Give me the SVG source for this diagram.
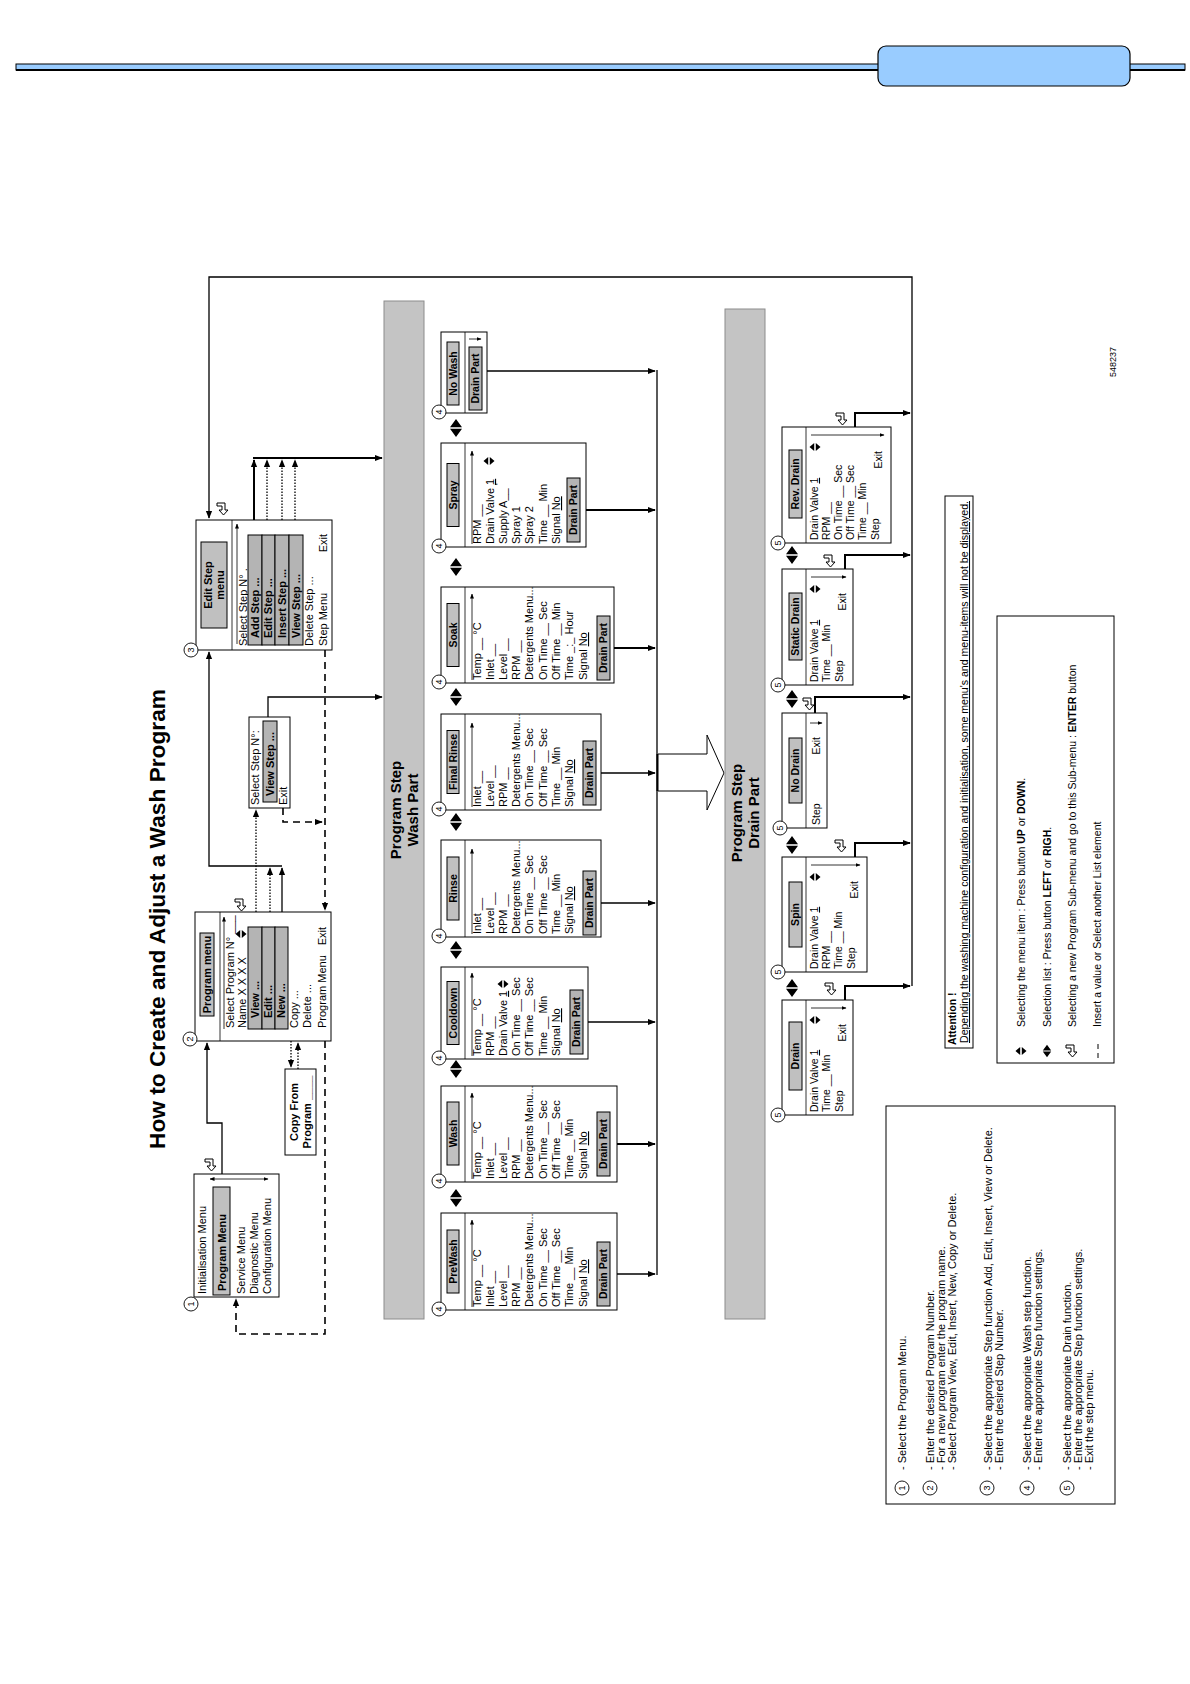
<svg xmlns="http://www.w3.org/2000/svg" width="1190" height="1684" viewBox="0 0 1190 1684">
<style>
.t{font-family:"Liberation Sans Narrow","Arial Narrow","Liberation Sans",Arial,sans-serif;font-size:11px;fill:#000}
.tb{font-family:"Liberation Sans Narrow","Arial Narrow","Liberation Sans",Arial,sans-serif;font-size:11px;font-weight:bold;fill:#000}
.s10{font-size:10.5px}
.box{fill:#fff;stroke:#000;stroke-width:1}
.hdr{fill:#c0c0c0;stroke:#000;stroke-width:1}
.sel{fill:#b4b4b4;stroke:#000;stroke-width:1}
.bar{fill:#c4c4c4;stroke:#8c8c8c;stroke-width:1}
.c{fill:none;stroke:#000;stroke-width:1.3}
.thk{stroke-width:2}
.dot{stroke-dasharray:1.5 1.5}
.dash{stroke-dasharray:7 5;stroke-width:1.6}
.thin{fill:none;stroke:#000;stroke-width:0.8}
.circ{fill:#fff;stroke:#000;stroke-width:0.9}
.ct{font-family:"Liberation Sans",Arial,sans-serif;font-size:9px;text-anchor:middle}
</style>
<defs>
<marker id="a" viewBox="0 0 10 10" refX="9" refY="5" markerWidth="8" markerHeight="8" markerUnits="userSpaceOnUse" orient="auto"><path d="M0,1 L10,5 L0,9 z" fill="#000"/></marker>
<marker id="s" viewBox="0 0 10 10" refX="9" refY="5" markerWidth="5" markerHeight="5" markerUnits="userSpaceOnUse" orient="auto-start-reverse"><path d="M0,1 L10,5 L0,9 z" fill="#000"/></marker>
<g id="ud"><path d="M0,-5.5 L-4,-0.8 L4,-0.8 Z M0,5.5 L-4,0.8 L4,0.8 Z" fill="#000"/></g>
<g id="lr"><path d="M-9,0 L-0.8,-6 L-0.8,6 Z M9,0 L0.8,-6 L0.8,6 Z" fill="#000"/></g>
<g id="ent"><path d="M3,-6 H6 V2 H-1 V5 L-6,0.5 L-1,-4 V-1 H3 Z" fill="#fff" stroke="#000" stroke-width="1"/></g>
</defs>

<g id="header">
<rect x="16" y="64" width="1169" height="6" fill="#99ccff" stroke="#000" stroke-width="1"/>
<line x1="16" y1="70" x2="1185" y2="70" stroke="#000" stroke-width="2"/>
<rect x="878" y="46" width="252" height="40" rx="8" fill="#99ccff" stroke="#000" stroke-width="1.2"/>
</g>

<g id="diagram" transform="matrix(0 -1 1 0 0 1684)">
<text id="title" x="535" y="165" font-family="Liberation Sans,Arial,sans-serif" font-size="22" font-weight="bold" textLength="460" lengthAdjust="spacingAndGlyphs">How to Create and Adjust a Wash Program</text>

<g id="connectors">
<polyline class="c" points="510,222 561,222 561,207 641,207" marker-end="url(#a)"/>
<line class="c dot" x1="772" y1="256" x2="874" y2="256" marker-end="url(#a)"/>
<line class="c dot" x1="772" y1="270" x2="816" y2="270" marker-end="url(#a)"/>
<line class="c" x1="772" y1="282" x2="816" y2="282" marker-end="url(#a)"/>
<polyline class="c" points="818,282 818,209 1032,209" marker-end="url(#a)"/>
<line class="c dot" x1="643" y1="291" x2="617" y2="291" marker-end="url(#a)"/>
<line class="c dot" x1="615" y1="298" x2="641" y2="298" marker-end="url(#a)"/>
<polyline class="c" points="967,268 987,268 987,382" marker-end="url(#a)"/>
<polyline class="c dash" points="876,283 862,283 862,322" marker-end="url(#a)"/>
<line class="c thk" x1="1164" y1="254" x2="1224" y2="254" marker-end="url(#a)"/>
<line class="c dot" x1="1164" y1="267" x2="1224" y2="267" marker-end="url(#a)"/>
<line class="c dot" x1="1164" y1="282" x2="1224" y2="282" marker-end="url(#a)"/>
<line class="c dot" x1="1164" y1="295" x2="1224" y2="295" marker-end="url(#a)"/>
<line class="c thk" x1="1226" y1="253" x2="1226" y2="382" marker-end="url(#a)"/>
<line class="c dash" x1="1034" y1="325" x2="774" y2="325" marker-end="url(#a)"/>
<polyline class="c dash" points="643,325 350,325 350,236 385,236" marker-end="url(#a)"/>
<polyline class="c" points="698,912 1407,912 1407,209 1166,209" marker-end="url(#a)"/>
<line class="c" x1="409" y1="657" x2="1314" y2="657"/>
<line class="c" x1="410" y1="610" x2="410" y2="655" marker-end="url(#a)"/>
<line class="c thk" x1="540" y1="610" x2="540" y2="655" marker-end="url(#a)"/>
<line class="c" x1="662" y1="583" x2="662" y2="655" marker-end="url(#a)"/>
<line class="c" x1="781" y1="596" x2="781" y2="655" marker-end="url(#a)"/>
<line class="c" x1="911" y1="596" x2="911" y2="655" marker-end="url(#a)"/>
<line class="c thk" x1="1036" y1="610" x2="1036" y2="655" marker-end="url(#a)"/>
<line class="c thk" x1="1174" y1="580" x2="1174" y2="655" marker-end="url(#a)"/>
<line class="c" x1="1313" y1="487" x2="1313" y2="655" marker-end="url(#a)"/>
<line x1="893" y1="658" x2="930" y2="658" stroke="#000" stroke-width="3"/>
<polygon points="893,658 893,707 874,707 911,724 949,707 930,707 930,658" fill="#fff" stroke="#000" stroke-width="1"/>
<polyline class="c thk" points="684,845 698,845 698,910" marker-end="url(#a)"/>
<polyline class="c thk" points="827,855 841,855 841,910" marker-end="url(#a)"/>
<polyline class="c thk" points="971,815 987,815 987,910" marker-end="url(#a)"/>
<polyline class="c thk" points="1115,845 1129,845 1129,910" marker-end="url(#a)"/>
<polyline class="c thk" points="1257,855 1271,855 1271,910" marker-end="url(#a)"/>
<use href="#ent" x="519" y="211"/>
<use href="#ent" x="779" y="241"/>
<use href="#ent" x="1175" y="223"/>
<use href="#ent" x="695" y="831"/>
<use href="#ent" x="838" y="841"/>
<use href="#ent" x="980" y="809"/>
<use href="#ent" x="1123" y="830"/>
<use href="#ent" x="1265" y="842"/>
<use href="#lr" x="486" y="456"/>
<use href="#lr" x="615" y="456"/>
<use href="#lr" x="734" y="456"/>
<use href="#lr" x="862" y="456"/>
<use href="#lr" x="987" y="456"/>
<use href="#lr" x="1117" y="456"/>
<use href="#lr" x="1256" y="456"/>
<use href="#lr" x="696" y="792"/>
<use href="#lr" x="839" y="792"/>
<use href="#lr" x="985" y="792"/>
<use href="#lr" x="1129" y="792"/>
</g>

<g id="n-init">
<rect class="box" x="387" y="194" width="123" height="85"/>
<line class="thin" x1="505" y1="210" x2="505" y2="268" marker-start="url(#s)" marker-end="url(#s)"/>
<text class="t" x="390" y="206">Initialisation Menu</text>
<rect class="hdr" x="389" y="213" width="108" height="17"/>
<text class="tb" x="393" y="226">Program Menu</text>
<text class="t" x="390" y="245">Service Menu</text>
<text class="t" x="390" y="258">Diagnostic Menu</text>
<text class="t" x="390" y="271">Configuration Menu</text>
<circle class="circ" cx="380" cy="191" r="7"/><text class="ct" x="380" y="194">1</text>
</g>

<g id="n-program">
<rect class="box" x="643" y="195" width="129" height="136"/>
<line class="thin" x1="643" y1="220" x2="772" y2="220"/>
<rect class="hdr" x="668" y="200" width="83" height="14"/>
<text class="tb" x="709.5" y="211" text-anchor="middle">Program menu</text>
<line class="thin" x1="655" y1="224" x2="767" y2="224" marker-end="url(#s)"/>
<text class="t" x="656" y="234">Select Program N° ___</text>
<use href="#ud" x="750" y="241"/>
<text class="t" x="656" y="246">Name X X X X</text>
<rect class="sel" x="655" y="248" width="102" height="14"/>
<rect class="sel" x="655" y="262" width="102" height="13"/>
<rect class="sel" x="655" y="275" width="102" height="13"/>
<text class="tb" x="666" y="259">View ...</text>
<text class="tb" x="666" y="272">Edit ...</text>
<text class="tb" x="666" y="285">New ...</text>
<text class="t" x="656" y="298">Copy ...</text>
<text class="t" x="656" y="311">Delete ...</text>
<text class="t" x="656" y="326">Program Menu</text>
<text class="t" x="757" y="326" text-anchor="end">Exit</text>
<circle class="circ" cx="645" cy="190" r="7"/><text class="ct" x="645" y="193">2</text>
</g>

<g id="n-copy">
<rect class="box" x="529" y="285" width="86" height="31"/>
<text class="tb" x="572" y="298" text-anchor="middle">Copy From</text>
<text class="tb" x="572" y="311" text-anchor="middle">Program ____</text>
</g>

<g id="n-selstep">
<rect class="box" x="876" y="249" width="91" height="41"/>
<text class="t" x="879" y="259">Select Step N°:</text>
<rect class="sel" x="882" y="263" width="81" height="14"/>
<text class="tb" x="888" y="274">View Step ...</text>
<text class="t" x="879" y="287">Exit</text>
</g>

<g id="n-editstep">
<rect class="box" x="1034" y="196" width="130" height="136"/>
<line class="thin" x1="1034" y1="232" x2="1164" y2="232"/>
<rect class="hdr" x="1056" y="201" width="86" height="26"/>
<text class="tb" x="1099" y="212" text-anchor="middle">Edit Step</text>
<text class="tb" x="1099" y="224" text-anchor="middle">menu</text>
<line class="thin" x1="1040" y1="237" x2="1160" y2="237" marker-end="url(#s)"/>
<text class="t" x="1038" y="247">Select Step N° .</text>
<rect class="sel" x="1039" y="248" width="110" height="14"/>
<rect class="sel" x="1039" y="262" width="110" height="13"/>
<rect class="sel" x="1039" y="275" width="110" height="14"/>
<rect class="sel" x="1039" y="289" width="110" height="14"/>
<text class="tb" x="1046" y="259">Add Step ...</text>
<text class="tb" x="1046" y="272">Edit Step ...</text>
<text class="tb" x="1046" y="286">Insert Step ...</text>
<text class="tb" x="1046" y="300">View Step ...</text>
<text class="t" x="1038" y="313">Delete Step ...</text>
<text class="t" x="1038" y="327">Step Menu</text>
<text class="t" x="1150" y="327" text-anchor="end">Exit</text>
<circle class="circ" cx="1034" cy="191" r="7"/><text class="ct" x="1034" y="194">3</text>
</g>

<g id="bar-wash">
<rect class="bar" x="365" y="384" width="1018" height="40"/>
<text x="874" y="401" font-family="Liberation Sans,Arial,sans-serif" font-size="15" font-weight="bold" text-anchor="middle">Program Step</text>
<text x="874" y="418" font-family="Liberation Sans,Arial,sans-serif" font-size="15" font-weight="bold" text-anchor="middle">Wash Part</text>
</g>

<g id="n-prewash">
<rect class="box" x="374" y="441" width="97" height="176"/>
<line class="thin" x1="374" y1="465" x2="471" y2="465"/>
<rect class="hdr" x="391" y="447" width="63" height="12"/>
<text class="tb s10" x="422.5" y="457" text-anchor="middle">PreWash</text>
<line class="thin" x1="377" y1="472" x2="464" y2="472" marker-end="url(#s)"/>
<text class="t" x="377" y="481">Temp __ °C</text>
<text class="t" x="377" y="494">Inlet __</text>
<text class="t" x="377" y="507">Level __</text>
<text class="t" x="377" y="520">RPM __</text>
<text class="t" x="377" y="533">Detergents Menu...</text>
<text class="t" x="377" y="547">On Time __ Sec</text>
<text class="t" x="377" y="560">Off Time __ Sec</text>
<text class="t" x="377" y="573">Time __ Min</text>
<text class="t" x="377" y="587">Signal <tspan text-decoration="underline">No</tspan></text>
<rect class="sel" x="378" y="597" width="64" height="13"/>
<text class="tb s10" x="410" y="607" text-anchor="middle">Drain Part</text>
<circle class="circ" cx="375" cy="439" r="7"/><text class="ct" x="375" y="442">4</text>
</g>

<g id="n-wash">
<rect class="box" x="502" y="441" width="96" height="176"/>
<line class="thin" x1="502" y1="465" x2="598" y2="465"/>
<rect class="hdr" x="519" y="447" width="63" height="12"/>
<text class="tb s10" x="550.5" y="457" text-anchor="middle">Wash</text>
<line class="thin" x1="505" y1="472" x2="591" y2="472" marker-end="url(#s)"/>
<text class="t" x="505" y="481">Temp __ °C</text>
<text class="t" x="505" y="494">Inlet __</text>
<text class="t" x="505" y="507">Level __</text>
<text class="t" x="505" y="520">RPM __</text>
<text class="t" x="505" y="533">Detergents Menu...</text>
<text class="t" x="505" y="547">On Time __ Sec</text>
<text class="t" x="505" y="560">Off Time __ Sec</text>
<text class="t" x="505" y="573">Time __ Min</text>
<text class="t" x="505" y="587">Signal <tspan text-decoration="underline">No</tspan></text>
<rect class="sel" x="508" y="597" width="64" height="13"/>
<text class="tb s10" x="540" y="607" text-anchor="middle">Drain Part</text>
<circle class="circ" cx="503" cy="439" r="7"/><text class="ct" x="503" y="442">4</text>
</g>

<g id="n-cooldown">
<rect class="box" x="625" y="441" width="92" height="147"/>
<line class="thin" x1="625" y1="465" x2="717" y2="465"/>
<rect class="hdr" x="639.5" y="447" width="63" height="12"/>
<text class="tb s10" x="671" y="457" text-anchor="middle">Cooldown</text>
<line class="thin" x1="628" y1="472" x2="711" y2="472" marker-end="url(#s)"/>
<text class="t" x="628" y="481">Temp __ °C</text>
<text class="t" x="628" y="494">RPM __</text>
<text class="t" x="628" y="507">Drain Valve <tspan text-decoration="underline">1</tspan></text>
<use href="#ud" x="700" y="503"/>
<text class="t" x="628" y="520">On Time __ Sec</text>
<text class="t" x="628" y="533">Off Time __ Sec</text>
<text class="t" x="628" y="547">Time __ Min</text>
<text class="t" x="628" y="560">Signal <tspan text-decoration="underline">No</tspan></text>
<rect class="sel" x="630" y="570" width="64" height="13"/>
<text class="tb s10" x="662" y="580" text-anchor="middle">Drain Part</text>
<circle class="circ" cx="626" cy="439" r="7"/><text class="ct" x="626" y="442">4</text>
</g>

<g id="n-rinse">
<rect class="box" x="747" y="441" width="97" height="160"/>
<line class="thin" x1="747" y1="465" x2="844" y2="465"/>
<rect class="hdr" x="764" y="447" width="63" height="12"/>
<text class="tb s10" x="795.5" y="457" text-anchor="middle">Rinse</text>
<line class="thin" x1="750" y1="472" x2="835" y2="472" marker-end="url(#s)"/>
<text class="t" x="750" y="481">Inlet __</text>
<text class="t" x="750" y="494">Level __</text>
<text class="t" x="750" y="507">RPM __</text>
<text class="t" x="750" y="520">Detergents Menu...</text>
<text class="t" x="750" y="533">On Time __ Sec</text>
<text class="t" x="750" y="547">Off Time __ Sec</text>
<text class="t" x="750" y="560">Time __ Min</text>
<text class="t" x="750" y="573">Signal <tspan text-decoration="underline">No</tspan></text>
<rect class="sel" x="749" y="583" width="64" height="13"/>
<text class="tb s10" x="781" y="593" text-anchor="middle">Drain Part</text>
<circle class="circ" cx="748" cy="439" r="7"/><text class="ct" x="748" y="442">4</text>
</g>

<g id="n-finalrinse">
<rect class="box" x="874" y="441" width="96" height="160"/>
<line class="thin" x1="874" y1="465" x2="970" y2="465"/>
<rect class="hdr" x="890.5" y="447" width="63" height="12"/>
<text class="tb s10" x="922" y="457" text-anchor="middle">Final Rinse</text>
<line class="thin" x1="877" y1="472" x2="961" y2="472" marker-end="url(#s)"/>
<text class="t" x="877" y="481">Inlet __</text>
<text class="t" x="877" y="494">Level __</text>
<text class="t" x="877" y="507">RPM __</text>
<text class="t" x="877" y="520">Detergents Menu...</text>
<text class="t" x="877" y="533">On Time __ Sec</text>
<text class="t" x="877" y="547">Off Time __ Sec</text>
<text class="t" x="877" y="560">Time __ Min</text>
<text class="t" x="877" y="573">Signal <tspan text-decoration="underline">No</tspan></text>
<rect class="sel" x="879" y="583" width="64" height="13"/>
<text class="tb s10" x="911" y="593" text-anchor="middle">Drain Part</text>
<circle class="circ" cx="875" cy="439" r="7"/><text class="ct" x="875" y="442">4</text>
</g>

<g id="n-soak">
<rect class="box" x="1001" y="441" width="96" height="173"/>
<line class="thin" x1="1001" y1="465" x2="1097" y2="465"/>
<rect class="hdr" x="1017.5" y="447" width="63" height="12"/>
<text class="tb s10" x="1049" y="457" text-anchor="middle">Soak</text>
<line class="thin" x1="1004" y1="472" x2="1090" y2="472" marker-end="url(#s)"/>
<text class="t" x="1004" y="481">Temp __ °C</text>
<text class="t" x="1004" y="494">Inlet __</text>
<text class="t" x="1004" y="507">Level __</text>
<text class="t" x="1004" y="520">RPM __</text>
<text class="t" x="1004" y="533">Detergents Menu...</text>
<text class="t" x="1004" y="547">On Time __ Sec</text>
<text class="t" x="1004" y="560">Off Time __ Min</text>
<text class="t" x="1004" y="573">Time _:_ Hour</text>
<text class="t" x="1004" y="587">Signal <tspan text-decoration="underline">No</tspan></text>
<rect class="sel" x="1004" y="597" width="64" height="13"/>
<text class="tb s10" x="1036" y="607" text-anchor="middle">Drain Part</text>
<circle class="circ" cx="1002" cy="439" r="7"/><text class="ct" x="1002" y="442">4</text>
</g>

<g id="n-spray">
<rect class="box" x="1137" y="441" width="104" height="145"/>
<line class="thin" x1="1137" y1="465" x2="1241" y2="465"/>
<rect class="hdr" x="1157.5" y="447" width="63" height="12"/>
<text class="tb s10" x="1189" y="457" text-anchor="middle">Spray</text>
<line class="thin" x1="1140" y1="472" x2="1233" y2="472" marker-end="url(#s)"/>
<text class="t" x="1140" y="481">RPM __</text>
<text class="t" x="1140" y="494">Drain Valve <tspan text-decoration="underline">1</tspan></text>
<use href="#ud" x="1223" y="489"/>
<text class="t" x="1140" y="507">Supply A__ <tspan dy="-4">'</tspan></text>
<text class="t" x="1140" y="520">Spray 1</text>
<text class="t" x="1140" y="533">Spray 2</text>
<text class="t" x="1140" y="547">Time __ Min</text>
<text class="t" x="1140" y="560">Signal <tspan text-decoration="underline">No</tspan></text>
<rect class="sel" x="1142" y="567" width="64" height="13"/>
<text class="tb s10" x="1174" y="577" text-anchor="middle">Drain Part</text>
<circle class="circ" cx="1138" cy="439" r="7"/><text class="ct" x="1138" y="442">4</text>
</g>

<g id="n-nowash">
<rect class="box" x="1271" y="441" width="81" height="46"/>
<line class="thin" x1="1271" y1="465" x2="1352" y2="465"/>
<rect class="hdr" x="1279" y="447" width="63" height="12"/>
<text class="tb s10" x="1310.5" y="457" text-anchor="middle">No Wash</text>
<rect class="sel" x="1274" y="469" width="63" height="13"/>
<text class="tb s10" x="1305.5" y="479" text-anchor="middle">Drain Part</text>
<line class="thin" x1="1345" y1="469" x2="1345" y2="481" marker-end="url(#s)"/>
<circle class="circ" cx="1272" cy="439" r="7"/><text class="ct" x="1272" y="442">4</text>
</g>

<g id="bar-drain">
<rect class="bar" x="365" y="725" width="1010" height="40"/>
<text x="871" y="742" font-family="Liberation Sans,Arial,sans-serif" font-size="15" font-weight="bold" text-anchor="middle">Program Step</text>
<text x="871" y="759" font-family="Liberation Sans,Arial,sans-serif" font-size="15" font-weight="bold" text-anchor="middle">Drain Part</text>
</g>

<g id="n-drain">
<rect class="box" x="569" y="782" width="115" height="71"/>
<line class="thin" x1="569" y1="806" x2="684" y2="806"/>
<rect class="hdr" x="594" y="789" width="68" height="13"/>
<text class="tb s10" x="628" y="799" text-anchor="middle">Drain</text>
<text class="t s10" x="572" y="818">Drain Valve <tspan text-decoration="underline">1</tspan></text>
<text class="t s10" x="572" y="830">Time __ Min</text>
<text class="t s10" x="572" y="843">Step</text>
<text class="t s10" x="660" y="846" text-anchor="end">Exit</text>
<use href="#ud" x="664" y="815"/>
<line class="thin" x1="676" y1="811" x2="676" y2="846" marker-end="url(#s)"/>
<circle class="circ" cx="569" cy="778" r="7"/><text class="ct" x="569" y="781">5</text>
</g>

<g id="n-spin">
<rect class="box" x="712" y="782" width="115" height="85"/>
<line class="thin" x1="712" y1="806" x2="827" y2="806"/>
<rect class="hdr" x="737" y="789" width="65" height="13"/>
<text class="tb s10" x="769.5" y="799" text-anchor="middle">Spin</text>
<text class="t s10" x="715" y="818">Drain Valve <tspan text-decoration="underline">1</tspan></text>
<text class="t s10" x="715" y="830">RPM __</text>
<text class="t s10" x="715" y="842">Time __ Min</text>
<text class="t s10" x="715" y="855">Step</text>
<text class="t s10" x="803" y="858" text-anchor="end">Exit</text>
<use href="#ud" x="807" y="815"/>
<line class="thin" x1="819" y1="811" x2="819" y2="860" marker-end="url(#s)"/>
<circle class="circ" cx="712" cy="778" r="7"/><text class="ct" x="712" y="781">5</text>
</g>

<g id="n-nodrain">
<rect class="box" x="856" y="782" width="115" height="45"/>
<line class="thin" x1="856" y1="806" x2="971" y2="806"/>
<rect class="hdr" x="881" y="789" width="65" height="13"/>
<text class="tb s10" x="913.5" y="799" text-anchor="middle">No Drain</text>
<text class="t s10" x="859" y="820">Step</text>
<text class="t s10" x="947" y="820" text-anchor="end">Exit</text>
<line class="thin" x1="961" y1="810" x2="961" y2="822" marker-end="url(#s)"/>
<circle class="circ" cx="856" cy="780" r="7"/><text class="ct" x="856" y="783">5</text>
</g>

<g id="n-staticdrain">
<rect class="box" x="999" y="782" width="116" height="71"/>
<line class="thin" x1="999" y1="806" x2="1115" y2="806"/>
<rect class="hdr" x="1024" y="789" width="67" height="13"/>
<text class="tb s10" x="1057.5" y="799" text-anchor="middle">Static Drain</text>
<text class="t s10" x="1002" y="818">Drain Valve <tspan text-decoration="underline">1</tspan></text>
<text class="t s10" x="1002" y="830">Time __ Min</text>
<text class="t s10" x="1002" y="843">Step</text>
<text class="t s10" x="1091" y="846" text-anchor="end">Exit</text>
<use href="#ud" x="1095" y="815"/>
<line class="thin" x1="1107" y1="811" x2="1107" y2="846" marker-end="url(#s)"/>
<circle class="circ" cx="999" cy="778" r="7"/><text class="ct" x="999" y="781">5</text>
</g>

<g id="n-revdrain">
<rect class="box" x="1141" y="782" width="116" height="109"/>
<line class="thin" x1="1141" y1="806" x2="1257" y2="806"/>
<rect class="hdr" x="1166" y="789" width="68" height="13"/>
<text class="tb s10" x="1200" y="799" text-anchor="middle">Rev. Drain</text>
<text class="t s10" x="1144" y="818">Drain Valve <tspan text-decoration="underline">1</tspan></text>
<text class="t s10" x="1144" y="830">RPM __</text>
<text class="t s10" x="1144" y="842">On Time __ Sec</text>
<text class="t s10" x="1144" y="854">Off Time __ Sec</text>
<text class="t s10" x="1144" y="866">Time __ Min</text>
<text class="t s10" x="1144" y="879">Step</text>
<text class="t s10" x="1233" y="882" text-anchor="end">Exit</text>
<use href="#ud" x="1237" y="815"/>
<line class="thin" x1="1249" y1="811" x2="1249" y2="884" marker-end="url(#s)"/>
<circle class="circ" cx="1141" cy="778" r="7"/><text class="ct" x="1141" y="781">5</text>
</g>

<g id="attention">
<rect class="box" x="636" y="945" width="552" height="28"/>
<text class="tb s10" x="639" y="956">Attention !</text>
<text class="t s10" x="641" y="968" text-decoration="underline" textLength="542" lengthAdjust="spacingAndGlyphs">Depending the washing machine configuration and initialisation, some menu's and menu-items will not be displayed.</text>
</g>

<g id="legend">
<rect class="box" x="621" y="997" width="447" height="117"/>
<use href="#ud" x="633" y="1021"/>
<text class="t s10" x="657" y="1025">Selecting the menu item : Press button <tspan font-weight="bold">UP</tspan> or <tspan font-weight="bold">DOWN</tspan>.</text>
<use href="#lr" x="633" y="1047" transform="translate(633 1047) scale(0.7) translate(-633 -1047)"/>
<text class="t s10" x="657" y="1051">Selection list : Press button <tspan font-weight="bold">LEFT</tspan> or <tspan font-weight="bold">RIGH</tspan>.</text>
<use href="#ent" x="633" y="1072"/>
<text class="t s10" x="657" y="1076">Selecting a new Program Sub-menu and go to this Sub-menu : <tspan font-weight="bold">ENTER</tspan> button</text>
<line x1="626" y1="1098" x2="631" y2="1098" stroke="#000" stroke-width="1"/>
<line x1="635" y1="1098" x2="640" y2="1098" stroke="#000" stroke-width="1"/>
<text class="t s10" x="657" y="1101">Insert a value or Select another List element</text>
</g>

<g id="notes">
<rect class="box" x="180" y="886" width="398" height="229"/>
<circle class="circ" cx="196" cy="902" r="7"/><text class="ct" x="196" y="905">1</text>
<circle class="circ" cx="196" cy="930" r="7"/><text class="ct" x="196" y="933">2</text>
<circle class="circ" cx="196" cy="987" r="7"/><text class="ct" x="196" y="990">3</text>
<circle class="circ" cx="196" cy="1027" r="7"/><text class="ct" x="196" y="1030">4</text>
<circle class="circ" cx="196" cy="1067" r="7"/><text class="ct" x="196" y="1070">5</text>
<text class="t" font-size="10" x="214" y="906">- Select the Program Menu.</text>
<text class="t" font-size="10" x="214" y="934">- Enter the desired Program Number.</text>
<text class="t" font-size="10" x="214" y="945">- For a new program enter the program name.</text>
<text class="t" font-size="10" x="214" y="956">- Select Program View, Edit, Insert, New, Copy or Delete.</text>
<text class="t" font-size="10" x="214" y="992">- Select the appropriate Step function Add, Edit, Insert, View or  Delete.</text>
<text class="t" font-size="10" x="214" y="1003">- Enter the desired Step Number.</text>
<text class="t" font-size="10" x="214" y="1031">- Select the appropriate Wash step function.</text>
<text class="t" font-size="10" x="214" y="1042">- Enter the appropriate Step function settings.</text>
<text class="t" font-size="10" x="214" y="1071">- Select the appropriate Drain function.</text>
<text class="t" font-size="10" x="214" y="1082">- Enter the appropriate Step function settings.</text>
<text class="t" font-size="10" x="214" y="1093">- Exit the step menu.</text>
</g>

<text id="docnum" x="1307" y="1116" font-family="Liberation Sans,Arial,sans-serif" font-size="9">548237</text>
</g>
</svg>
